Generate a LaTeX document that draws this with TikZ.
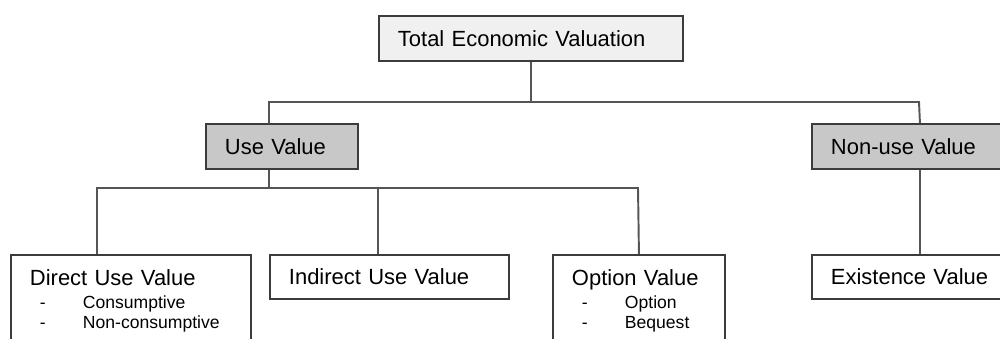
\documentclass[tikz,border=0pt]{standalone}
\usepackage{fontspec}
\setmainfont{Liberation Sans}
\definecolor{boxline}{RGB}{60,60,60}
\definecolor{linkline}{RGB}{85,85,85}
\definecolor{usefill}{RGB}{200,200,200}
\definecolor{topfill}{RGB}{240,240,240}
\newcommand\valitem[1]{{\fontsize{10}{11.5}\selectfont\hspace*{0.2cm}\makebox[0.86cm][l]{-}#1}}
\begin{document}
\begin{tikzpicture}[x=0.02cm,y=-0.02cm,
  valbox/.style={draw=boxline,line width=1.1pt,rectangle,anchor=north west,
    align=left,inner xsep=0.38cm,inner ysep=0pt,minimum height=0.88cm,
    font=\fontsize{12.5}{11.5}\selectfont},
  listbox/.style={valbox,inner ysep=0.3cm,minimum height=0pt},
  link/.style={draw=linkline,line width=1.1pt}]
  \useasboundingbox (0,0) rectangle (1000,338);
  \clip (0,0) rectangle (1000,338);
  \node (total) at (378,15) [valbox,fill=topfill,text width=5.32cm,minimum height=0.9cm] {Total Economic Valuation};
  \node (use) at (205,123) [valbox,fill=usefill,text width=2.28cm,minimum height=0.9cm] {Use Value};
  \node (nonuse) at (811,123) [valbox,fill=usefill,text width=3.56cm,minimum height=0.9cm] {Non-use Value};
  \node (direct) at (10,254) [listbox,text width=4.04cm] {Direct Use Value\\[1.5pt]\valitem{Consumptive}\\\valitem{Non-consumptive}};
  \node (indirect) at (269,254) [valbox,text width=4.02cm] {Indirect Use Value};
  \node (option) at (552,254) [listbox,text width=2.68cm] {Option Value\\[1.5pt]\valitem{Option}\\\valitem{Bequest}};
  \node (existence) at (811,254) [valbox,text width=3.56cm] {Existence Value};

  \coordinate (ubL) at (269,102);
  \coordinate (ubR) at (919,102);
  \coordinate (lbL) at (97,188);
  \coordinate (lbU) at (269,188);
  \coordinate (lbI) at (378,188);
  \coordinate (lbR) at (638,188);

  \draw[link] (total.south) -- (total.south |- ubL);
  \draw[link] (ubL |- use.north) -- (ubL) -- (ubR) -- (nonuse.north);
  \draw[link] (lbU |- use.south) -- (lbU);
  \draw[link] (lbL |- direct.north) -- (lbL) -- (lbR) -- (option.north);
  \draw[link] (lbI) -- (lbI |- indirect.north);
  \draw[link] (nonuse.south) -- (existence.north);
\end{tikzpicture}
\end{document}
